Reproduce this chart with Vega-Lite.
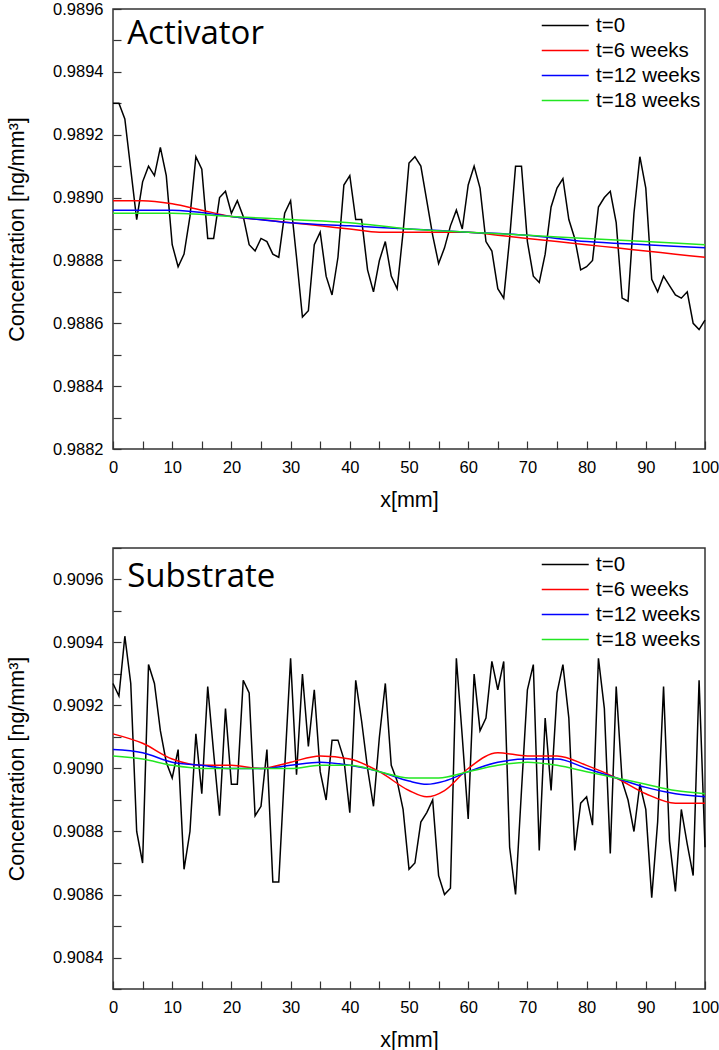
{
  "$schema": "https://vega.github.io/schema/vega-lite/v6.json",
  "padding": {"left": 5, "top": 0, "right": 5, "bottom": 0},
  "background": "white",
  "spacing": 27,
  "config": {
    "view": {"stroke": "#333333", "strokeWidth": 1.5},
    "font": "Liberation Sans",
    "axis": {"grid": false, "domain": false, "tickSize": -8, "tickCount": 60, "tickColor": "#333333", "tickWidth": 1.2, "labelFontSize": 16.5, "labelColor": "#000000", "labelFont": "Liberation Sans", "titleFont": "Liberation Sans", "titleFontSize": 21.5, "titleFontWeight": "normal", "titleColor": "#000000", "labelFlush": false, "labelPadding": 18, "labelOverlap": false},
    "axisY": {"titlePadding": 24},
    "axisX": {"titlePadding": 14},
    "legend": {"labelFont": "Liberation Sans", "labelFontSize": 20.5, "labelColor": "#000000", "symbolType": "M-1,0H3", "symbolSize": 552, "symbolStrokeWidth": 1.5, "labelOffset": 30, "offset": 4, "padding": 0, "rowPadding": 2}
  },
  "datasets": {
    "act": [
      {"x":0,"c":0.98930,"s":"t=0"},{"x":1,"c":0.98930,"s":"t=0"},{"x":2,"c":0.98925,"s":"t=0"},{"x":3,"c":0.98909,"s":"t=0"},{"x":4,"c":0.98893,"s":"t=0"},
      {"x":5,"c":0.98905,"s":"t=0"},{"x":6,"c":0.98910,"s":"t=0"},{"x":7,"c":0.98907,"s":"t=0"},{"x":8,"c":0.98916,"s":"t=0"},{"x":9,"c":0.98907,"s":"t=0"},
      {"x":10,"c":0.98885,"s":"t=0"},{"x":11,"c":0.98878,"s":"t=0"},{"x":12,"c":0.98882,"s":"t=0"},{"x":13,"c":0.98894,"s":"t=0"},{"x":14,"c":0.98913,"s":"t=0"},
      {"x":15,"c":0.98909,"s":"t=0"},{"x":16,"c":0.98887,"s":"t=0"},{"x":17,"c":0.98887,"s":"t=0"},{"x":18,"c":0.98900,"s":"t=0"},{"x":19,"c":0.98902,"s":"t=0"},
      {"x":20,"c":0.98895,"s":"t=0"},{"x":21,"c":0.98899,"s":"t=0"},{"x":22,"c":0.98894,"s":"t=0"},{"x":23,"c":0.98885,"s":"t=0"},{"x":24,"c":0.98883,"s":"t=0"},
      {"x":25,"c":0.98887,"s":"t=0"},{"x":26,"c":0.98886,"s":"t=0"},{"x":27,"c":0.98882,"s":"t=0"},{"x":28,"c":0.98881,"s":"t=0"},{"x":29,"c":0.98895,"s":"t=0"},
      {"x":30,"c":0.98899,"s":"t=0"},{"x":31,"c":0.98881,"s":"t=0"},{"x":32,"c":0.98862,"s":"t=0"},{"x":33,"c":0.98864,"s":"t=0"},{"x":34,"c":0.98885,"s":"t=0"},
      {"x":35,"c":0.98889,"s":"t=0"},{"x":36,"c":0.98875,"s":"t=0"},{"x":37,"c":0.98869,"s":"t=0"},{"x":38,"c":0.98881,"s":"t=0"},{"x":39,"c":0.98904,"s":"t=0"},
      {"x":40,"c":0.98907,"s":"t=0"},{"x":41,"c":0.98893,"s":"t=0"},{"x":42,"c":0.98893,"s":"t=0"},{"x":43,"c":0.98877,"s":"t=0"},{"x":44,"c":0.98870,"s":"t=0"},
      {"x":45,"c":0.98880,"s":"t=0"},{"x":46,"c":0.98886,"s":"t=0"},{"x":47,"c":0.98875,"s":"t=0"},{"x":48,"c":0.98871,"s":"t=0"},{"x":49,"c":0.98889,"s":"t=0"},
      {"x":50,"c":0.98911,"s":"t=0"},{"x":51,"c":0.98913,"s":"t=0"},{"x":52,"c":0.98910,"s":"t=0"},{"x":53,"c":0.98899,"s":"t=0"},{"x":54,"c":0.98888,"s":"t=0"},
      {"x":55,"c":0.98879,"s":"t=0"},{"x":56,"c":0.98884,"s":"t=0"},{"x":57,"c":0.98891,"s":"t=0"},{"x":58,"c":0.98896,"s":"t=0"},{"x":59,"c":0.98890,"s":"t=0"},
      {"x":60,"c":0.98904,"s":"t=0"},{"x":61,"c":0.98910,"s":"t=0"},{"x":62,"c":0.98903,"s":"t=0"},{"x":63,"c":0.98886,"s":"t=0"},{"x":64,"c":0.98883,"s":"t=0"},
      {"x":65,"c":0.98871,"s":"t=0"},{"x":66,"c":0.98868,"s":"t=0"},{"x":67,"c":0.98887,"s":"t=0"},{"x":68,"c":0.98910,"s":"t=0"},{"x":69,"c":0.98910,"s":"t=0"},
      {"x":70,"c":0.98886,"s":"t=0"},{"x":71,"c":0.98875,"s":"t=0"},{"x":72,"c":0.98873,"s":"t=0"},{"x":73,"c":0.98882,"s":"t=0"},{"x":74,"c":0.98897,"s":"t=0"},
      {"x":75,"c":0.98903,"s":"t=0"},{"x":76,"c":0.98906,"s":"t=0"},{"x":77,"c":0.98893,"s":"t=0"},{"x":78,"c":0.98887,"s":"t=0"},{"x":79,"c":0.98877,"s":"t=0"},
      {"x":80,"c":0.98878,"s":"t=0"},{"x":81,"c":0.98880,"s":"t=0"},{"x":82,"c":0.98897,"s":"t=0"},{"x":83,"c":0.98900,"s":"t=0"},{"x":84,"c":0.98902,"s":"t=0"},
      {"x":85,"c":0.98892,"s":"t=0"},{"x":86,"c":0.98868,"s":"t=0"},{"x":87,"c":0.98867,"s":"t=0"},{"x":88,"c":0.98895,"s":"t=0"},{"x":89,"c":0.98913,"s":"t=0"},
      {"x":90,"c":0.98903,"s":"t=0"},{"x":91,"c":0.98874,"s":"t=0"},{"x":92,"c":0.98870,"s":"t=0"},{"x":93,"c":0.98875,"s":"t=0"},{"x":94,"c":0.98872,"s":"t=0"},
      {"x":95,"c":0.98869,"s":"t=0"},{"x":96,"c":0.98868,"s":"t=0"},{"x":97,"c":0.98870,"s":"t=0"},{"x":98,"c":0.98860,"s":"t=0"},{"x":99,"c":0.98858,"s":"t=0"},
      {"x":100,"c":0.98861,"s":"t=0"},
      {"x":0,"c":0.98899,"s":"t=6 weeks"},{"x":5,"c":0.98899,"s":"t=6 weeks"},{"x":10,"c":0.98898,"s":"t=6 weeks"},{"x":15,"c":0.98896,"s":"t=6 weeks"},{"x":20,"c":0.98894,"s":"t=6 weeks"},
      {"x":25,"c":0.98893,"s":"t=6 weeks"},{"x":30,"c":0.98892,"s":"t=6 weeks"},{"x":35,"c":0.98891,"s":"t=6 weeks"},{"x":40,"c":0.98890,"s":"t=6 weeks"},{"x":45,"c":0.98889,"s":"t=6 weeks"},
      {"x":50,"c":0.98889,"s":"t=6 weeks"},{"x":55,"c":0.98889,"s":"t=6 weeks"},{"x":60,"c":0.98889,"s":"t=6 weeks"},{"x":65,"c":0.98888,"s":"t=6 weeks"},{"x":70,"c":0.98887,"s":"t=6 weeks"},
      {"x":75,"c":0.98886,"s":"t=6 weeks"},{"x":80,"c":0.98885,"s":"t=6 weeks"},{"x":85,"c":0.98884,"s":"t=6 weeks"},{"x":90,"c":0.98883,"s":"t=6 weeks"},{"x":95,"c":0.98882,"s":"t=6 weeks"},
      {"x":100,"c":0.98881,"s":"t=6 weeks"},
      {"x":0,"c":0.98896,"s":"t=12 weeks"},{"x":10,"c":0.98896,"s":"t=12 weeks"},{"x":20,"c":0.98894,"s":"t=12 weeks"},{"x":30,"c":0.98892,"s":"t=12 weeks"},{"x":40,"c":0.98891,"s":"t=12 weeks"},
      {"x":50,"c":0.98890,"s":"t=12 weeks"},{"x":60,"c":0.98889,"s":"t=12 weeks"},{"x":70,"c":0.98888,"s":"t=12 weeks"},{"x":80,"c":0.98886,"s":"t=12 weeks"},{"x":90,"c":0.98885,"s":"t=12 weeks"},
      {"x":100,"c":0.98884,"s":"t=12 weeks"},
      {"x":0,"c":0.98895,"s":"t=18 weeks"},{"x":10,"c":0.98895,"s":"t=18 weeks"},{"x":20,"c":0.98894,"s":"t=18 weeks"},{"x":30,"c":0.98893,"s":"t=18 weeks"},{"x":40,"c":0.98892,"s":"t=18 weeks"},
      {"x":50,"c":0.98890,"s":"t=18 weeks"},{"x":60,"c":0.98889,"s":"t=18 weeks"},{"x":70,"c":0.98888,"s":"t=18 weeks"},{"x":80,"c":0.98887,"s":"t=18 weeks"},{"x":90,"c":0.98886,"s":"t=18 weeks"},
      {"x":100,"c":0.98885,"s":"t=18 weeks"}
    ],
    "sub": [
      {"x":0,"c":0.90927,"s":"t=0"},{"x":1,"c":0.90923,"s":"t=0"},{"x":2,"c":0.90942,"s":"t=0"},{"x":3,"c":0.90927,"s":"t=0"},{"x":4,"c":0.90880,"s":"t=0"},
      {"x":5,"c":0.90870,"s":"t=0"},{"x":6,"c":0.90933,"s":"t=0"},{"x":7,"c":0.90927,"s":"t=0"},{"x":8,"c":0.90912,"s":"t=0"},{"x":9,"c":0.90902,"s":"t=0"},
      {"x":10,"c":0.90897,"s":"t=0"},{"x":11,"c":0.90906,"s":"t=0"},{"x":12,"c":0.90868,"s":"t=0"},{"x":13,"c":0.90880,"s":"t=0"},{"x":14,"c":0.90911,"s":"t=0"},
      {"x":15,"c":0.90892,"s":"t=0"},{"x":16,"c":0.90926,"s":"t=0"},{"x":17,"c":0.90905,"s":"t=0"},{"x":18,"c":0.90885,"s":"t=0"},{"x":19,"c":0.90919,"s":"t=0"},
      {"x":20,"c":0.90895,"s":"t=0"},{"x":21,"c":0.90895,"s":"t=0"},{"x":22,"c":0.90928,"s":"t=0"},{"x":23,"c":0.90924,"s":"t=0"},{"x":24,"c":0.90885,"s":"t=0"},
      {"x":25,"c":0.90888,"s":"t=0"},{"x":26,"c":0.90906,"s":"t=0"},{"x":27,"c":0.90864,"s":"t=0"},{"x":28,"c":0.90864,"s":"t=0"},{"x":29,"c":0.90900,"s":"t=0"},
      {"x":30,"c":0.90935,"s":"t=0"},{"x":31,"c":0.90898,"s":"t=0"},{"x":32,"c":0.90930,"s":"t=0"},{"x":33,"c":0.90907,"s":"t=0"},{"x":34,"c":0.90925,"s":"t=0"},
      {"x":35,"c":0.90899,"s":"t=0"},{"x":36,"c":0.90890,"s":"t=0"},{"x":37,"c":0.90909,"s":"t=0"},{"x":38,"c":0.90909,"s":"t=0"},{"x":39,"c":0.90903,"s":"t=0"},
      {"x":40,"c":0.90886,"s":"t=0"},{"x":41,"c":0.90928,"s":"t=0"},{"x":42,"c":0.90915,"s":"t=0"},{"x":43,"c":0.90900,"s":"t=0"},{"x":44,"c":0.90888,"s":"t=0"},
      {"x":45,"c":0.90910,"s":"t=0"},{"x":46,"c":0.90927,"s":"t=0"},{"x":47,"c":0.90901,"s":"t=0"},{"x":48,"c":0.90896,"s":"t=0"},{"x":49,"c":0.90887,"s":"t=0"},
      {"x":50,"c":0.90868,"s":"t=0"},{"x":51,"c":0.90870,"s":"t=0"},{"x":52,"c":0.90883,"s":"t=0"},{"x":53,"c":0.90886,"s":"t=0"},{"x":54,"c":0.90890,"s":"t=0"},
      {"x":55,"c":0.90866,"s":"t=0"},{"x":56,"c":0.90860,"s":"t=0"},{"x":57,"c":0.90862,"s":"t=0"},{"x":58,"c":0.90935,"s":"t=0"},{"x":59,"c":0.90910,"s":"t=0"},
      {"x":60,"c":0.90884,"s":"t=0"},{"x":61,"c":0.90930,"s":"t=0"},{"x":62,"c":0.90912,"s":"t=0"},{"x":63,"c":0.90916,"s":"t=0"},{"x":64,"c":0.90934,"s":"t=0"},
      {"x":65,"c":0.90925,"s":"t=0"},{"x":66,"c":0.90934,"s":"t=0"},{"x":67,"c":0.90875,"s":"t=0"},{"x":68,"c":0.90860,"s":"t=0"},{"x":69,"c":0.90893,"s":"t=0"},
      {"x":70,"c":0.90925,"s":"t=0"},{"x":71,"c":0.90933,"s":"t=0"},{"x":72,"c":0.90874,"s":"t=0"},{"x":73,"c":0.90916,"s":"t=0"},{"x":74,"c":0.90893,"s":"t=0"},
      {"x":75,"c":0.90924,"s":"t=0"},{"x":76,"c":0.90933,"s":"t=0"},{"x":77,"c":0.90916,"s":"t=0"},{"x":78,"c":0.90874,"s":"t=0"},{"x":79,"c":0.90889,"s":"t=0"},
      {"x":80,"c":0.90891,"s":"t=0"},{"x":81,"c":0.90882,"s":"t=0"},{"x":82,"c":0.90935,"s":"t=0"},{"x":83,"c":0.90919,"s":"t=0"},{"x":84,"c":0.90873,"s":"t=0"},
      {"x":85,"c":0.90926,"s":"t=0"},{"x":86,"c":0.90896,"s":"t=0"},{"x":87,"c":0.90890,"s":"t=0"},{"x":88,"c":0.90880,"s":"t=0"},{"x":89,"c":0.90895,"s":"t=0"},
      {"x":90,"c":0.90887,"s":"t=0"},{"x":91,"c":0.90859,"s":"t=0"},{"x":92,"c":0.90883,"s":"t=0"},{"x":93,"c":0.90926,"s":"t=0"},{"x":94,"c":0.90877,"s":"t=0"},
      {"x":95,"c":0.90861,"s":"t=0"},{"x":96,"c":0.90887,"s":"t=0"},{"x":97,"c":0.90876,"s":"t=0"},{"x":98,"c":0.90866,"s":"t=0"},{"x":99,"c":0.90928,"s":"t=0"},
      {"x":100,"c":0.90875,"s":"t=0"},
      {"x":0,"c":0.90911,"s":"t=6 weeks"},{"x":5,"c":0.90908,"s":"t=6 weeks"},{"x":10,"c":0.90903,"s":"t=6 weeks"},{"x":15,"c":0.90901,"s":"t=6 weeks"},{"x":20,"c":0.90901,"s":"t=6 weeks"},
      {"x":25,"c":0.90900,"s":"t=6 weeks"},{"x":30,"c":0.90902,"s":"t=6 weeks"},{"x":35,"c":0.90904,"s":"t=6 weeks"},{"x":40,"c":0.90903,"s":"t=6 weeks"},{"x":45,"c":0.90899,"s":"t=6 weeks"},
      {"x":50,"c":0.90893,"s":"t=6 weeks"},{"x":53,"c":0.90891,"s":"t=6 weeks"},{"x":56,"c":0.90893,"s":"t=6 weeks"},{"x":60,"c":0.90900,"s":"t=6 weeks"},{"x":65,"c":0.90905,"s":"t=6 weeks"},
      {"x":70,"c":0.90904,"s":"t=6 weeks"},{"x":75,"c":0.90904,"s":"t=6 weeks"},{"x":80,"c":0.90901,"s":"t=6 weeks"},{"x":85,"c":0.90897,"s":"t=6 weeks"},{"x":90,"c":0.90892,"s":"t=6 weeks"},
      {"x":95,"c":0.90889,"s":"t=6 weeks"},{"x":100,"c":0.90889,"s":"t=6 weeks"},
      {"x":0,"c":0.90906,"s":"t=12 weeks"},{"x":5,"c":0.90905,"s":"t=12 weeks"},{"x":10,"c":0.90902,"s":"t=12 weeks"},{"x":15,"c":0.90901,"s":"t=12 weeks"},{"x":20,"c":0.90900,"s":"t=12 weeks"},
      {"x":25,"c":0.90900,"s":"t=12 weeks"},{"x":30,"c":0.90901,"s":"t=12 weeks"},{"x":35,"c":0.90902,"s":"t=12 weeks"},{"x":40,"c":0.90901,"s":"t=12 weeks"},{"x":45,"c":0.90899,"s":"t=12 weeks"},
      {"x":50,"c":0.90896,"s":"t=12 weeks"},{"x":53,"c":0.90895,"s":"t=12 weeks"},{"x":56,"c":0.90896,"s":"t=12 weeks"},{"x":60,"c":0.90899,"s":"t=12 weeks"},{"x":65,"c":0.90902,"s":"t=12 weeks"},
      {"x":70,"c":0.90903,"s":"t=12 weeks"},{"x":75,"c":0.90903,"s":"t=12 weeks"},{"x":80,"c":0.90900,"s":"t=12 weeks"},{"x":85,"c":0.90897,"s":"t=12 weeks"},{"x":90,"c":0.90894,"s":"t=12 weeks"},
      {"x":95,"c":0.90892,"s":"t=12 weeks"},{"x":100,"c":0.90891,"s":"t=12 weeks"},
      {"x":0,"c":0.90904,"s":"t=18 weeks"},{"x":5,"c":0.90903,"s":"t=18 weeks"},{"x":10,"c":0.90901,"s":"t=18 weeks"},{"x":15,"c":0.90900,"s":"t=18 weeks"},{"x":20,"c":0.90900,"s":"t=18 weeks"},
      {"x":25,"c":0.90900,"s":"t=18 weeks"},{"x":30,"c":0.90900,"s":"t=18 weeks"},{"x":35,"c":0.90901,"s":"t=18 weeks"},{"x":40,"c":0.90901,"s":"t=18 weeks"},{"x":45,"c":0.90899,"s":"t=18 weeks"},
      {"x":50,"c":0.90897,"s":"t=18 weeks"},{"x":55,"c":0.90897,"s":"t=18 weeks"},{"x":60,"c":0.90899,"s":"t=18 weeks"},{"x":65,"c":0.90901,"s":"t=18 weeks"},{"x":70,"c":0.90902,"s":"t=18 weeks"},
      {"x":75,"c":0.90901,"s":"t=18 weeks"},{"x":80,"c":0.90899,"s":"t=18 weeks"},{"x":85,"c":0.90897,"s":"t=18 weeks"},{"x":90,"c":0.90895,"s":"t=18 weeks"},{"x":95,"c":0.90893,"s":"t=18 weeks"},
      {"x":100,"c":0.90892,"s":"t=18 weeks"}
    ],
    "lab1": [{"label": "Activator", "lx": 2.4, "ly": 0.98949}],
    "lab2": [{"label": "Substrate", "lx": 2.4, "ly": 0.909577}]
  },
  "vconcat": [
    {
      "width": 592, "height": 440,
      "layer": [
        {
          "data": {"name": "act"},
          "transform": [{"filter": "datum.s == 't=0'"}],
          "mark": {"type": "line", "strokeWidth": 1.5},
          "encoding": {
            "x": {"field": "x", "type": "quantitative", "scale": {"domain": [0, 100], "nice": false}, "axis": {"title": "x[mm]", "values": [0,5,10,15,20,25,30,35,40,45,50,55,60,65,70,75,80,85,90,95,100], "labelExpr": "datum.value % 10 == 0 ? datum.label : ''"}},
            "y": {"field": "c", "type": "quantitative", "scale": {"domain": [0.9882, 0.9896], "zero": false, "nice": false}, "axis": {"title": "Concentration [ng/mm³]", "values": [0.9882,0.9883,0.9884,0.9885,0.9886,0.9887,0.9888,0.9889,0.9890,0.9891,0.9892,0.9893,0.9894,0.9895,0.9896], "format": ".4f", "labelExpr": "round(datum.value*10000) % 2 == 0 ? datum.label : ''"}},
            "color": {"field": "s", "type": "nominal", "scale": {"domain": ["t=0", "t=6 weeks", "t=12 weeks", "t=18 weeks"], "range": ["#000000", "#ff0000", "#0000ff", "#22e622"]}, "legend": {"title": null, "orient": "top-right"}}
          }
        },
        {
          "data": {"name": "act"},
          "transform": [{"filter": "datum.s != 't=0'"}],
          "mark": {"type": "line", "strokeWidth": 1.5, "interpolate": "monotone"},
          "encoding": {
            "x": {"field": "x", "type": "quantitative"},
            "y": {"field": "c", "type": "quantitative"},
            "color": {"field": "s", "type": "nominal"}
          }
        },
        {
          "data": {"name": "lab1"},
          "mark": {"type": "text", "align": "left", "baseline": "alphabetic", "font": "Open Sans", "fontSize": 33, "color": "#000000"},
          "encoding": {
            "x": {"field": "lx", "type": "quantitative"},
            "y": {"field": "ly", "type": "quantitative"},
            "text": {"field": "label"}
          }
        }
      ]
    },
    {
      "width": 592, "height": 441,
      "layer": [
        {
          "data": {"name": "sub"},
          "transform": [{"filter": "datum.s == 't=0'"}],
          "mark": {"type": "line", "strokeWidth": 1.5},
          "encoding": {
            "x": {"field": "x", "type": "quantitative", "scale": {"domain": [0, 100], "nice": false}, "axis": {"title": "x[mm]", "values": [0,5,10,15,20,25,30,35,40,45,50,55,60,65,70,75,80,85,90,95,100], "labelExpr": "datum.value % 10 == 0 ? datum.label : ''"}},
            "y": {"field": "c", "type": "quantitative", "scale": {"domain": [0.9083, 0.9097], "zero": false, "nice": false}, "axis": {"title": "Concentration [ng/mm³]", "values": [0.9083,0.9084,0.9085,0.9086,0.9087,0.9088,0.9089,0.9090,0.9091,0.9092,0.9093,0.9094,0.9095,0.9096,0.9097], "format": ".4f", "labelExpr": "round(datum.value*10000) % 2 == 0 ? datum.label : ''"}},
            "color": {"field": "s", "type": "nominal", "scale": {"domain": ["t=0", "t=6 weeks", "t=12 weeks", "t=18 weeks"], "range": ["#000000", "#ff0000", "#0000ff", "#22e622"]}, "legend": {"title": null, "orient": "top-right"}}
          }
        },
        {
          "data": {"name": "sub"},
          "transform": [{"filter": "datum.s != 't=0'"}],
          "mark": {"type": "line", "strokeWidth": 1.5, "interpolate": "monotone"},
          "encoding": {
            "x": {"field": "x", "type": "quantitative"},
            "y": {"field": "c", "type": "quantitative"},
            "color": {"field": "s", "type": "nominal"}
          }
        },
        {
          "data": {"name": "lab2"},
          "mark": {"type": "text", "align": "left", "baseline": "alphabetic", "font": "Open Sans", "fontSize": 33, "color": "#000000"},
          "encoding": {
            "x": {"field": "lx", "type": "quantitative"},
            "y": {"field": "ly", "type": "quantitative"},
            "text": {"field": "label"}
          }
        }
      ]
    }
  ],
  "resolve": {"scale": {"x": "independent", "y": "independent"}, "legend": {"color": "independent"}}
}
